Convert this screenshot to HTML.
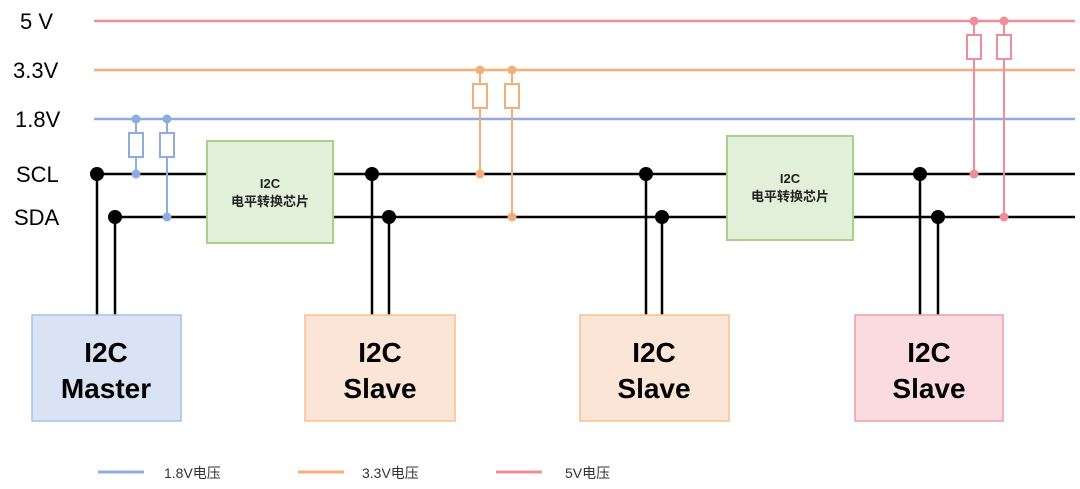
<!DOCTYPE html>
<html><head><meta charset="utf-8"><style>
body{margin:0;background:#fff;}
svg{display:block;font-family:"Liberation Sans","Noto Sans CJK SC",sans-serif;}
</style></head><body>
<svg width="1080" height="489" viewBox="0 0 1080 489">
<g font-size="22" fill="#000">
<text x="20" y="29">5 V</text>
<text x="13" y="78">3.3V</text>
<text x="15" y="127">1.8V</text>
<text x="16" y="182">SCL</text>
<text x="14" y="225">SDA</text>
</g>
<g stroke-width="2.5">
<line x1="94" y1="21" x2="1075" y2="21" stroke="#ee8e9c"/>
<line x1="94" y1="70" x2="1075" y2="70" stroke="#f5ad7a"/>
<line x1="94" y1="119" x2="1075" y2="119" stroke="#8eacdf"/>
</g>
<g stroke="#000" stroke-width="2.5">
<line x1="97" y1="174" x2="1075" y2="174"/>
<line x1="115" y1="217" x2="1075" y2="217"/>
<line x1="97" y1="174" x2="97" y2="315"/><line x1="115" y1="217" x2="115" y2="315"/>
<line x1="372" y1="174" x2="372" y2="315"/><line x1="389" y1="217" x2="389" y2="315"/>
<line x1="646" y1="174" x2="646" y2="315"/><line x1="662" y1="217" x2="662" y2="315"/>
<line x1="920" y1="174" x2="920" y2="315"/><line x1="938" y1="217" x2="938" y2="315"/>
</g>
<g fill="#000">
<circle cx="97" cy="174" r="7"/><circle cx="115" cy="217" r="7"/>
<circle cx="372" cy="174" r="7"/><circle cx="389" cy="217" r="7"/>
<circle cx="646" cy="174" r="7"/><circle cx="662" cy="217" r="7"/>
<circle cx="920" cy="174" r="7"/><circle cx="938" cy="217" r="7"/>
</g>
<!-- blue resistors -->
<g stroke="#8eacdf" stroke-width="2" fill="#fff">
<line x1="136" y1="119" x2="136" y2="174"/><line x1="167" y1="119" x2="167" y2="217"/>
<rect x="129" y="133" width="14" height="24"/><rect x="160" y="133" width="14" height="24"/>
</g>
<g fill="#8eacdf"><circle cx="136" cy="119" r="4.5"/><circle cx="167" cy="119" r="4.5"/><circle cx="136" cy="174" r="4.5"/><circle cx="167" cy="217" r="4.5"/></g>
<!-- orange -->
<g stroke="#f5ad7a" stroke-width="2" fill="#fff">
<line x1="480" y1="70" x2="480" y2="174"/><line x1="512" y1="70" x2="512" y2="217"/>
<rect x="473" y="84" width="14" height="24"/><rect x="505" y="84" width="14" height="24"/>
</g>
<g fill="#f5ad7a"><circle cx="480" cy="70" r="4.5"/><circle cx="512" cy="70" r="4.5"/><circle cx="480" cy="174" r="4.5"/><circle cx="512" cy="217" r="4.5"/></g>
<!-- pink -->
<g stroke="#ee8e9c" stroke-width="2" fill="#fff">
<line x1="974" y1="21" x2="974" y2="174"/><line x1="1004" y1="21" x2="1004" y2="217"/>
<rect x="967" y="35" width="14" height="24"/><rect x="997" y="35" width="14" height="24"/>
</g>
<g fill="#ee8e9c"><circle cx="974" cy="21" r="4.5"/><circle cx="1004" cy="21" r="4.5"/><circle cx="974" cy="174" r="4.5"/><circle cx="1004" cy="217" r="4.5"/></g>
<!-- green chips -->
<g fill="#e2f0d9" stroke="#a9d18e" stroke-width="2">
<rect x="207" y="141" width="126" height="102"/>
<rect x="727" y="136" width="126" height="104"/>
</g>
<g font-size="13" text-anchor="middle" font-weight="bold" fill="#222">
<text x="270" y="188">I2C</text><text x="270" y="206">电平转换芯片</text>
<text x="790" y="183">I2C</text><text x="790" y="201">电平转换芯片</text>
</g>
<!-- boxes -->
<rect x="32" y="315" width="149" height="106" fill="#dae3f3" stroke="#a9c0ea" stroke-width="1.5"/>
<rect x="305" y="315" width="150" height="106" fill="#fbe5d6" stroke="#f8c08f" stroke-width="1.5"/>
<rect x="580" y="315" width="149" height="106" fill="#fbe5d6" stroke="#f8c08f" stroke-width="1.5"/>
<rect x="855" y="315" width="148" height="106" fill="#fadbe0" stroke="#f19ca8" stroke-width="1.5"/>
<g font-size="28" font-weight="bold" text-anchor="middle" fill="#000">
<text x="106" y="362">I2C</text><text x="106" y="398">Master</text>
<text x="380" y="362">I2C</text><text x="380" y="398">Slave</text>
<text x="654" y="362">I2C</text><text x="654" y="398">Slave</text>
<text x="929" y="362">I2C</text><text x="929" y="398">Slave</text>
</g>
<!-- legend -->
<g stroke-width="3">
<line x1="98" y1="472" x2="144" y2="472" stroke="#8eacdf"/>
<line x1="298" y1="472" x2="344" y2="472" stroke="#f5ad7a"/>
<line x1="496" y1="472" x2="542" y2="472" stroke="#ee8e9c"/>
</g>
<g font-size="14" fill="#333">
<text x="164" y="478">1.8V电压</text>
<text x="362" y="478">3.3V电压</text>
<text x="565" y="478">5V电压</text>
</g>
</svg>
</body></html>
